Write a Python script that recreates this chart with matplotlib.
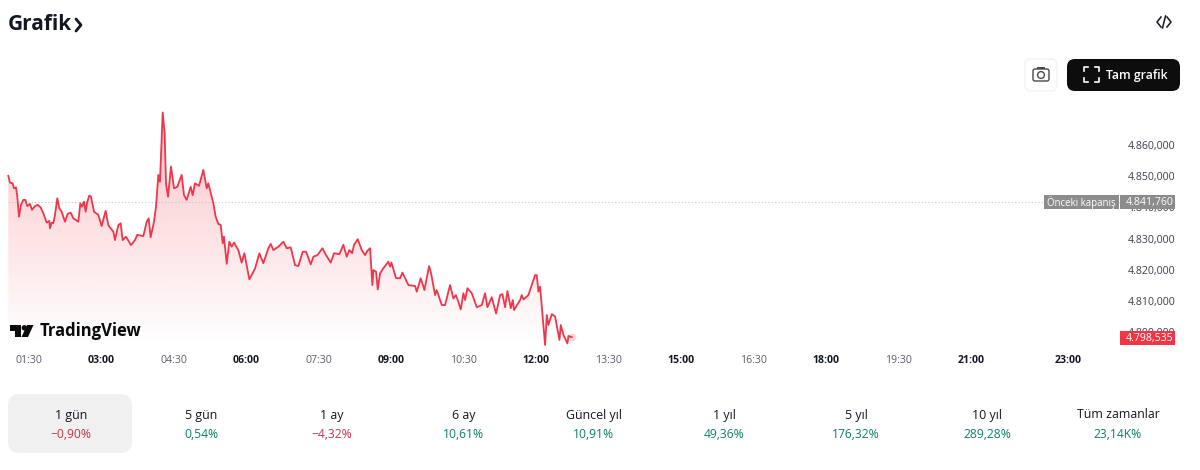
import numpy as np
import matplotlib
matplotlib.use("Agg")
import matplotlib.pyplot as plt
from matplotlib.patches import FancyBboxPatch, Rectangle, Circle, Polygon

plt.rcParams['font.family'] = ['Open Sans', 'DejaVu Sans']

hours = [1.082,1.117,1.172,1.200,1.241,1.269,1.303,1.344,1.393,1.434,1.476,1.531,1.572,1.634,1.689,1.751,1.807,1.876,1.931,1.944,
1.979,2.013,2.048,2.096,2.138,2.186,2.255,2.310,2.372,2.427,2.531,2.572,2.607,2.648,2.682,2.717,2.758,2.793,2.855,2.945,
3.013,3.096,3.151,3.255,3.289,3.358,3.407,3.448,3.517,3.620,3.703,3.751,3.876,3.945,3.986,4.027,4.096,4.138,4.186,4.220,
4.276,4.317,4.344,4.386,4.448,4.510,4.579,4.669,4.717,4.772,4.855,4.896,4.944,5.027,5.117,5.186,5.220,5.324,5.372,5.427,
5.476,5.517,5.544,5.600,5.655,5.703,5.751,5.841,5.910,5.966,6.069,6.186,6.276,6.358,6.462,6.510,6.566,6.669,6.772,6.841,
6.924,7.014,7.083,7.173,7.242,7.339,7.394,7.477,7.580,7.656,7.752,7.821,7.932,8.014,8.083,8.139,8.194,8.235,8.311,8.394,
8.463,8.511,8.566,8.614,8.635,8.690,8.725,8.773,8.842,8.945,8.980,9.008,9.104,9.187,9.235,9.290,9.359,9.497,9.532,9.614,
9.690,9.787,9.828,9.911,9.945,10.049,10.118,10.221,10.290,10.339,10.380,10.442,10.497,10.532,10.580,10.670,10.773,10.877,10.945,10.994,
11.083,11.173,11.256,11.304,11.359,11.407,11.477,11.518,11.545,11.670,11.704,11.739,11.842,11.980,12.014,12.049,12.083,12.187,12.222,12.256,
12.325,12.394,12.484,12.511,12.566,12.649,12.670,12.739]
prices = [4850.1,4847.9,4847.7,4846.1,4846.4,4843.4,4837.0,4840.8,4842.4,4842.4,4840.4,4841.1,4839.2,4840.4,4840.8,4840.0,4838.1,4835.1,4835.7,4833.3,
4835.1,4834.9,4837.6,4842.9,4839.7,4838.6,4835.4,4837.9,4838.3,4836.5,4835.4,4841.3,4840.2,4841.8,4838.6,4841.8,4843.8,4843.4,4838.6,4837.6,
4834.0,4838.9,4834.3,4832.2,4829.5,4834.3,4834.9,4829.5,4830.6,4827.9,4829.5,4831.2,4830.8,4835.4,4836.5,4830.4,4835.4,4840.2,4850.4,4848.2,
4870.4,4863.7,4847.7,4843.4,4853.1,4846.1,4846.6,4850.4,4843.9,4842.4,4846.6,4843.9,4847.7,4846.9,4852.0,4846.1,4847.7,4841.3,4837.0,4834.7,
4834.4,4828.5,4830.6,4821.9,4829.0,4827.4,4828.7,4826.3,4822.3,4825.3,4816.9,4820.4,4825.3,4822.1,4826.9,4828.3,4826.3,4827.4,4829.0,4826.9,
4827.2,4821.5,4821.2,4825.8,4825.8,4821.7,4824.2,4824.7,4826.9,4824.7,4822.3,4825.3,4825.0,4828.0,4824.2,4826.3,4825.3,4828.0,4829.8,4826.3,
4824.7,4826.1,4826.9,4815.1,4819.9,4819.4,4813.7,4818.9,4820.5,4822.6,4821.0,4822.3,4817.3,4817.3,4819.1,4817.3,4815.1,4814.8,4813.0,4817.3,
4813.5,4821.2,4818.9,4811.9,4813.5,4808.7,4808.7,4815.1,4810.8,4811.9,4810.3,4807.3,4812.5,4810.3,4814.1,4812.5,4808.0,4808.7,4812.5,4808.0,
4811.2,4806.0,4811.9,4812.2,4808.0,4813.2,4807.7,4810.3,4807.1,4810.3,4811.9,4810.5,4811.9,4818.3,4818.3,4813.0,4814.6,4795.9,4805.5,4802.3,
4805.8,4805.0,4797.5,4802.3,4799.1,4796.4,4798.8,4798.4]

prev_close = 4841.76
last_price = 4798.535
prev_close_text = "4.841,760"
last_price_text = "4.798,535"
prev_close_label = "Önceki kapanış"

price_ticks = [4800, 4810, 4820, 4830, 4840, 4850, 4860]
price_labels = ["4.800,000", "4.810,000", "4.820,000", "4.830,000", "4.840,000", "4.850,000", "4.860,000"]
time_ticks = [1.5, 3, 4.5, 6, 7.5, 9, 10.5, 12, 13.5, 15, 16.5, 18, 19.5, 21, 23]
time_labels = ["01:30", "03:00", "04:30", "06:00", "07:30", "09:00", "10:30", "12:00",
               "13:30", "15:00", "16:30", "18:00", "19:30", "21:00", "23:00"]
time_bold = ["03:00", "06:00", "09:00", "12:00", "15:00", "18:00", "21:00", "23:00"]

period_names = ["1 gün", "5 gün", "1 ay", "6 ay", "Güncel yıl", "1 yıl", "5 yıl", "10 yıl", "Tüm zamanlar"]
period_values = ["−0,90%", "0,54%", "−4,32%", "10,61%", "10,91%", "49,36%", "176,32%", "289,28%", "23,14K%"]
period_centers = [71, 201, 332, 464, 594, 724, 856, 987, 1118]

RED = "#F23645"
LINE = "#F0364A"
INK = "#131722"

W, H = 1200, 470
fig = plt.figure(figsize=(W / 100, H / 100), dpi=100, facecolor="white")

# main chart: pixels 8..1120 horizontally, 100..345 vertically
ax = fig.add_axes([8 / W, 1 - 345 / H, (1120 - 8) / W, (345 - 100) / H])
xlim = (1.076, 24.08)
ylim = (4795.9, 4874.4)

grad = np.zeros((256, 1, 4))
grad[..., 0] = 242 / 255
grad[..., 1] = 54 / 255
grad[..., 2] = 69 / 255
grad[..., 3] = np.linspace(0.30, 0.0, 256)[:, None]
fill = ax.fill_between(hours, prices, ylim[0], color="none", linewidth=0)
img = ax.imshow(grad, extent=(xlim[0], xlim[1], ylim[0], 4870.4), origin="upper",
                aspect="auto", zorder=1, interpolation="bilinear")
poly = Polygon(fill.get_paths()[0].vertices, closed=True, transform=ax.transData,
               facecolor="none", edgecolor="none")
ax.add_patch(poly)
img.set_clip_path(poly)

ax.plot(hours, prices, color=LINE, lw=1.3, zorder=3, solid_joinstyle="round", clip_on=False)
ax.scatter([hours[-1]], [prices[-1]], s=32, color=RED, alpha=0.2, linewidths=0, zorder=2, clip_on=False)
ax.axhline(prev_close, color="#c4c4c4", lw=0.8, ls=(0, (1, 2)), zorder=2)

ax.set_xlim(*xlim)
ax.set_ylim(*ylim)
for s in ax.spines.values():
    s.set_visible(False)
ax.patch.set_alpha(0)
ax.yaxis.tick_right()
ax.set_yticks(price_ticks, price_labels)
ax.set_xticks(time_ticks, time_labels)
ax.tick_params(axis="y", length=0, pad=5.8, labelsize=7.6, labelcolor="#3a3f4a")
ax.tick_params(axis="x", length=0, pad=7.5, labelsize=7.6, labelcolor="#5a5f6a")
for lab in ax.get_xticklabels():
    if lab.get_text() in time_bold:
        lab.set_fontweight("bold")
        lab.set_color(INK)

# overlay in pixel coordinates for the page furniture
ov = fig.add_axes([0, 0, 1, 1])
ov.set_xlim(0, W)
ov.set_ylim(H, 0)
ov.axis("off")
ov.patch.set_alpha(0)

def rbox(x0, y0, x1, y1, r, **kw):
    ov.add_patch(FancyBboxPatch((x0 + r, y0 + r), x1 - x0 - 2 * r, y1 - y0 - 2 * r,
                                boxstyle=f"round,pad={r},rounding_size={r}", **kw))

# title
ov.text(8, 24, "Grafik", fontsize=15, fontweight="bold", color=INK, va="center", ha="left")
ov.plot([76, 81, 76], [19, 25, 31], color=INK, lw=2, solid_capstyle="round", solid_joinstyle="round")

# embed glyph
ov.plot([1161, 1157, 1161], [17, 22, 27], color=INK, lw=1.1)
ov.plot([1167, 1171, 1167], [17, 22, 27], color=INK, lw=1.1)
ov.plot([1162.5, 1165.5], [28, 16], color=INK, lw=1.1)

# camera button
rbox(1025, 59, 1057, 91, 6, facecolor="white", edgecolor="#f2f2f2", lw=1)
rbox(1033, 69, 1049, 81, 2, facecolor="none", edgecolor="#4a4a4a", lw=1)
ov.add_patch(Rectangle((1037, 67), 8, 2, facecolor="#4a4a4a", edgecolor="none"))
ov.add_patch(Circle((1041, 75), 3.4, facecolor="white", edgecolor="#4a4a4a", lw=1))

# full chart button
rbox(1067, 59, 1180, 91, 8, facecolor="#0d0d0d", edgecolor="none")
for cx, cy, dx, dy in [(1084, 67, 1, 1), (1099, 67, -1, 1), (1084, 82, 1, -1), (1099, 82, -1, -1)]:
    ov.plot([cx + 4 * dx, cx, cx], [cy, cy, cy + 4 * dy], color="white", lw=1.2)
ov.text(1137, 76, "Tam grafik", fontsize=8.8, fontweight="semibold", color="white", ha="center", va="center")

# price labels
ov.add_patch(Rectangle((1044, 195), 75, 14, facecolor="#8c8c8c", edgecolor="none"))
ov.add_patch(Rectangle((1120, 195), 55, 14, facecolor="#8c8c8c", edgecolor="none"))
ov.text(1081.5, 203, prev_close_label, fontsize=6.9, color="white", ha="center", va="center")
ov.text(1149.5, 203, prev_close_text, fontsize=7.6, color="white", ha="center", va="center")
ov.add_patch(Rectangle((1120, 331), 55, 14, facecolor=RED, edgecolor="none"))
ov.text(1149.5, 339, last_price_text, fontsize=7.6, color="white", ha="center", va="center")

# TradingView logo
ov.add_patch(Polygon([(9.5, 325), (21, 325), (21, 337), (15, 337), (15, 331), (9.5, 331)],
                     facecolor="#0b0b0b", edgecolor="none"))
ov.add_patch(Circle((24.3, 327.8), 2.7, facecolor="#0b0b0b", edgecolor="none"))
ov.add_patch(Polygon([(27, 325), (33.5, 325), (28, 337), (21.5, 337)], facecolor="#0b0b0b", edgecolor="none"))
ov.text(39.5, 331.5, "TradingView", fontsize=12, fontweight="bold", color="#0b0b0b", ha="left", va="center")

# period tabs
rbox(8, 394, 132, 453, 12, facecolor="#f0f0f0", edgecolor="none")
for name, val, cx in zip(period_names, period_values, period_centers):
    colour = "#C2354A" if val.startswith("−") else "#0B7F6B"
    ov.text(cx, 415, name, fontsize=8.9, color=INK, ha="center", va="center")
    ov.text(cx, 435, val, fontsize=8.7, color=colour, ha="center", va="center")

fig.savefig("out.png", dpi=100, facecolor="white")
